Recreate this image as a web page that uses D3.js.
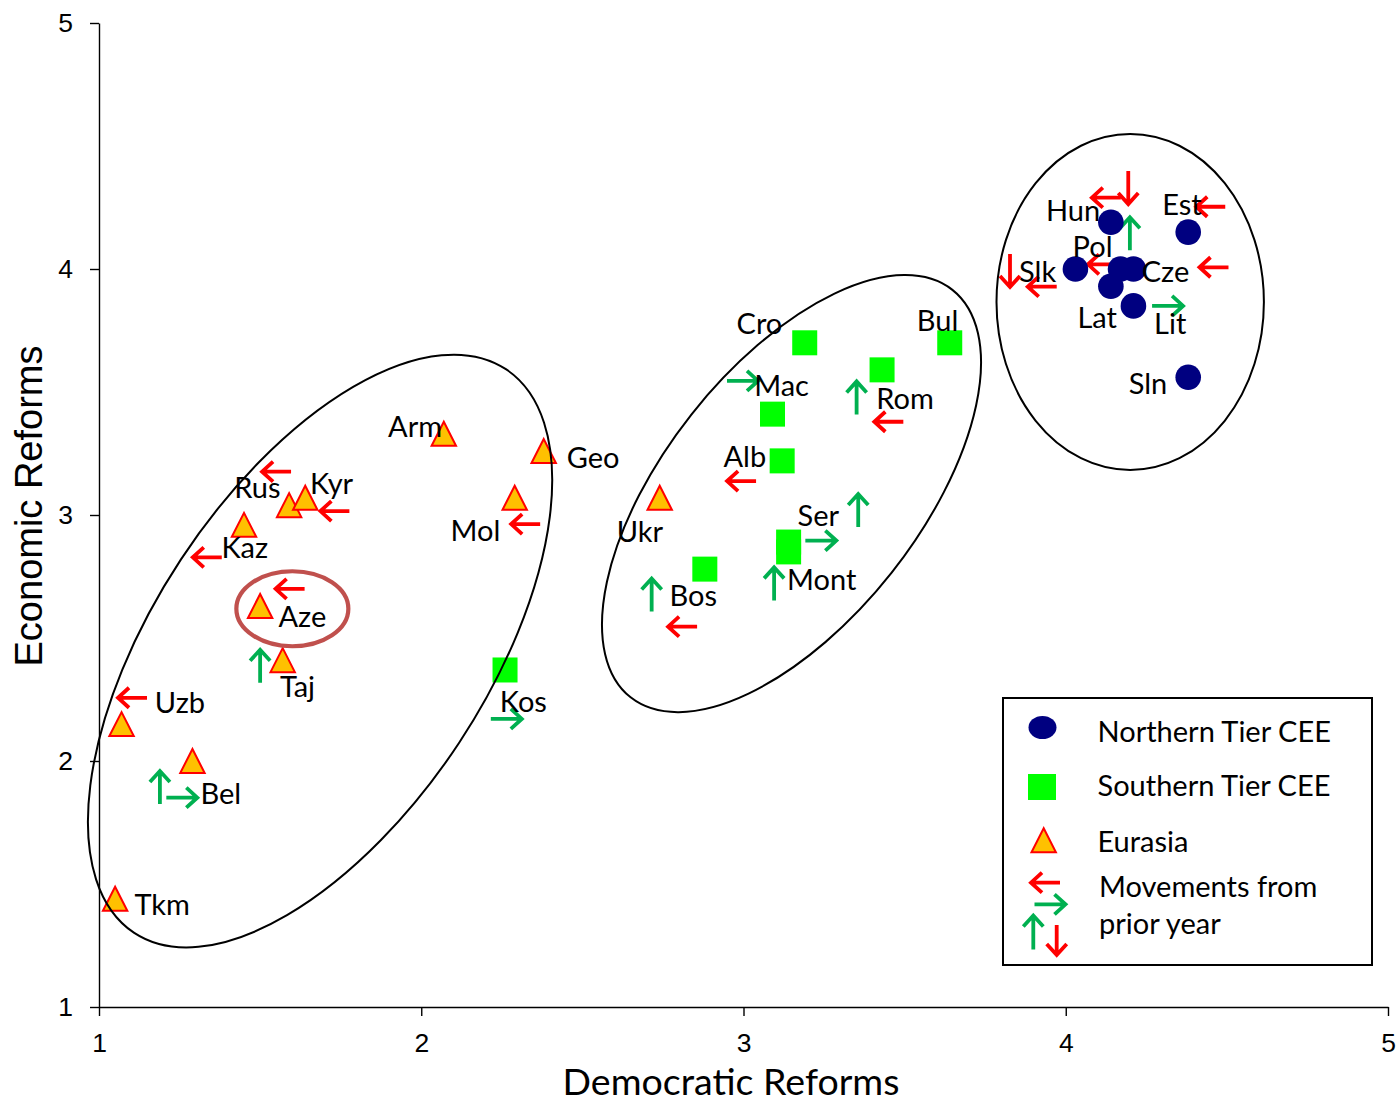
<!DOCTYPE html>
<html>
<head>
<meta charset="utf-8">
<script src="https://cdn.jsdelivr.net/npm/d3@7"></script>
<style>
  html, body { margin: 0; padding: 0; background: #fff; }
  svg { display: block; }
</style>
</head>
<body>
<svg id="chart" width="1399" height="1107"></svg>
<script>
// ---------------- DATA ----------------
const xTicks = [1, 2, 3, 4, 5];
const yTicks = [1, 2, 3, 4, 5];
const xTitle = "Democratic Reforms";
const yTitle = "Economic Reforms";

// Northern Tier CEE
const northNames = ["Hun", "Est", "Slk", "Pol", "Cze", "Lat", "Lit", "Sln"];
const northDem   = [4.14, 4.38, 4.03, 4.17, 4.21, 4.14, 4.21, 4.38];
const northEcon  = [4.19, 4.15, 4.00, 4.00, 4.00, 3.93, 3.85, 3.56];

// Southern Tier CEE
const southNames = ["Cro", "Bul", "Rom", "Mac", "Alb", "Ser", "Mont", "Bos", "Kos"];
const southDem   = [3.19, 3.64, 3.43, 3.09, 3.12, 3.14, 3.14, 2.88, 2.26];
const southEcon  = [3.70, 3.70, 3.59, 3.41, 3.22, 2.89, 2.85, 2.78, 2.37];

// Eurasia
const eurNames = ["Arm", "Geo", "Mol", "Ukr", "Rus", "Kyr", "Kaz", "Aze", "Taj", "Uzb", "Bel", "Tkm"];
const eurDem   = [2.07, 2.38, 2.29, 2.74, 1.59, 1.64, 1.45, 1.50, 1.57, 1.07, 1.29, 1.05];
const eurEcon  = [3.33, 3.26, 3.07, 3.07, 3.04, 3.07, 2.96, 2.63, 2.41, 2.15, 2.00, 1.44];

// Movements from prior year (L = left, R = right, U = up, D = down), placed in data units
const moveNames = ["Rus","Kyr","Kaz","Aze","Taj","Uzb","Bel","Bel","Mol","Kos",
                   "Mac","Rom","Rom","Alb","Ser","Ser","Mont","Bos","Bos",
                   "Hun","Hun","Pol","Est","Pol","Cze","Slk","Slk","Lit"];
const moveDir   = ["L","L","L","L","U","L","U","R","L","R",
                   "R","U","L","L","U","R","U","U","L",
                   "L","D","U","L","L","L","D","L","R"];
const moveDem   = [1.551,1.732,1.336,1.593,1.500,1.104,1.189,1.257,2.324,2.264,
                   2.997,3.351,3.451,2.994,3.356,3.240,3.095,2.715,2.811,
                   4.126,4.194,4.199,4.450,4.114,4.460,3.827,3.927,4.316];
const moveEcon  = [3.176,3.016,2.828,2.700,2.385,2.257,1.892,1.851,2.963,2.171,
                   3.545,3.476,3.379,3.138,3.018,2.896,2.720,2.675,2.546,
                   4.290,4.331,4.143,4.253,4.019,4.007,3.994,3.928,3.850];

// Group outlines (centres in data units)
const groupCentreDem  = [1.686, 3.149, 4.200];
const groupCentreEcon = [2.447, 3.087, 3.866];
// Highlighted country
const highlightName = "Aze";
const highlightDem = 1.600, highlightEcon = 2.619;

const legendLabels = ["Northern Tier CEE", "Southern Tier CEE", "Eurasia"];
const legendMoveLines = ["Movements from", "prior year"];

// ---------------- LAYOUT / STYLE ----------------
const labelFont = "Lato, 'Open Sans', sans-serif";
const labelSize = 29;
const arialFont = "'Liberation Sans', Arial, sans-serif";
const RED = "#FF0000", GREEN = "#00B050", NAVY = "#000080", LIME = "#00FF00", AMBER = "#FFC000";

// label placement relative to marker: [dx, dy, anchor]
const labelPos = {
  Hun: [-10.7, -1.6, "end"], Est: [-26, -17, "start"], Slk: [-19.3, 12.7, "end"],
  Pol: [-8, -11.6, "end"], Cze: [8.3, 12.7, "start"], Lat: [-13.7, 41.6, "middle"],
  Lit: [20.7, 27.6, "start"], Sln: [-21, 16.7, "end"],
  Cro: [-22.4, -8.4, "end"], Bul: [8.6, -11.7, "end"], Rom: [-5.7, 39.3, "start"],
  Mac: [-18.3, -18.3, "start"], Alb: [-16, 6.4, "end"], Ser: [9, -15.8, "start"],
  Mont: [-1.6, 38.2, "start"], Bos: [-35.4, 36.7, "start"], Kos: [18.3, 42.3, "middle"],
  Arm: [-1.7, 2.7, "end"], Geo: [23, 16.7, "start"], Mol: [-14.4, 43.7, "end"],
  Ukr: [3.3, 44, "end"], Rus: [-8.6, -7, "end"], Kyr: [4.7, -3.7, "start"],
  Kaz: [-22.6, 32.7, "start"], Aze: [18.3, 21, "start"], Taj: [14.8, 37, "middle"],
  Uzb: [33.3, -11.4, "start"], Bel: [8, 42.7, "start"], Tkm: [19.3, 16.7, "start"]
};
// outline ellipses: [rx, ry, rotation deg]
const groupShape = [[337.6, 166.6, -56.6], [259.6, 127.6, -51.7], [133.7, 168, 0]];

// ---------------- CHART ----------------
const svg = d3.select("#chart");
const x = d3.scaleLinear().domain([1, 5]).range([99, 1388]);
const y = d3.scaleLinear().domain([1, 5]).range([1007, 23]);

// axes
const gx = svg.append("g").attr("transform", `translate(0,${y(1)})`)
  .call(d3.axisBottom(x).tickValues(xTicks).tickFormat(d3.format("d"))
        .tickSize(9).tickSizeOuter(0).tickPadding(17.5));
const gy = svg.append("g").attr("transform", `translate(${x(1)},0)`)
  .call(d3.axisLeft(y).tickValues(yTicks).tickFormat(d3.format("d"))
        .tickSize(9).tickSizeOuter(0).tickPadding(17));
[gx, gy].forEach(g => {
  g.attr("font-size", null).attr("font-family", null);
  g.selectAll("path, line").attr("stroke", "#000").attr("stroke-width", 1.4);
  g.selectAll("text").attr("font-family", arialFont).attr("font-size", 26.5).attr("fill", "#000");
});

svg.append("text").attr("x", 731).attr("y", 1095).attr("text-anchor", "middle")
  .attr("font-family", labelFont).attr("font-size", 37.5).text(xTitle);
svg.append("text").attr("transform", "translate(42,506) rotate(-90)").attr("text-anchor", "middle")
  .attr("font-family", arialFont).attr("font-size", 38).text(yTitle);

// marker helpers
const triPath = "M0,-12 L12.2,12 L-12.2,12 Z";
function drawArrow(g, cx, cy, dir, color, len) {
  const h = len / 2, head = 11, spread = 10;
  let d;
  if (dir === "L") d = `M${cx + h},${cy} H${cx - h} M${cx - h + head},${cy - spread} L${cx - h},${cy} L${cx - h + head},${cy + spread}`;
  if (dir === "R") d = `M${cx - h},${cy} H${cx + h} M${cx + h - head},${cy - spread} L${cx + h},${cy} L${cx + h - head},${cy + spread}`;
  if (dir === "U") d = `M${cx},${cy + h} V${cy - h} M${cx - spread},${cy - h + head} L${cx},${cy - h} L${cx + spread},${cy - h + head}`;
  if (dir === "D") d = `M${cx},${cy - h} V${cy + h} M${cx - spread},${cy + h - head} L${cx},${cy + h} L${cx + spread},${cy + h - head}`;
  g.append("path").attr("d", d).attr("fill", "none").attr("stroke", color)
    .attr("stroke-width", 3.8).attr("stroke-linejoin", "miter");
}

const plot = svg.append("g");

// movement arrows
const arrowsG = plot.append("g");
moveDir.forEach((dir, i) => {
  const color = (dir === "L" || dir === "D") ? RED : GREEN;
  const len = (dir === "U" || dir === "D") ? 33 : (dir === "R" ? 31 : 29);
  drawArrow(arrowsG, x(moveDem[i]), y(moveEcon[i]), dir, color, len);
});

// markers
const north = northNames.map((n, i) => ({ n, dx: northDem[i], ey: northEcon[i] }));
const south = southNames.map((n, i) => ({ n, dx: southDem[i], ey: southEcon[i] }));
const eur = eurNames.map((n, i) => ({ n, dx: eurDem[i], ey: eurEcon[i] }));

plot.append("g").selectAll("rect").data(south).join("rect")
  .attr("x", d => x(d.dx) - 12.5).attr("y", d => y(d.ey) - 12.5)
  .attr("width", 25).attr("height", 25).attr("fill", LIME);
plot.append("g").selectAll("circle").data(north).join("circle")
  .attr("cx", d => x(d.dx)).attr("cy", d => y(d.ey)).attr("r", 12.8).attr("fill", NAVY);
plot.append("g").selectAll("path").data(eur).join("path")
  .attr("transform", d => `translate(${x(d.dx)},${y(d.ey)})`)
  .attr("d", triPath).attr("fill", AMBER).attr("stroke", RED).attr("stroke-width", 2);

// labels
plot.append("g").selectAll("text").data([...north, ...south, ...eur]).join("text")
  .attr("x", d => x(d.dx) + labelPos[d.n][0])
  .attr("y", d => y(d.ey) + labelPos[d.n][1])
  .attr("text-anchor", d => labelPos[d.n][2])
  .attr("font-family", labelFont).attr("font-size", labelSize).attr("fill", "#000")
  .text(d => d.n);

// group outlines
groupCentreDem.forEach((cd, i) => {
  const [rx, ry, rot] = groupShape[i];
  svg.append("ellipse")
    .attr("transform", `translate(${x(cd)},${y(groupCentreEcon[i])}) rotate(${rot})`)
    .attr("rx", rx).attr("ry", ry).attr("fill", "none")
    .attr("stroke", "#000").attr("stroke-width", 2);
});
svg.append("ellipse").attr("class", "highlight-" + highlightName)
  .attr("cx", x(highlightDem)).attr("cy", y(highlightEcon))
  .attr("rx", 56).attr("ry", 37.5).attr("fill", "none")
  .attr("stroke", "#C0504D").attr("stroke-width", 4.2);

// legend
const lg = svg.append("g");
lg.append("rect").attr("x", 1003).attr("y", 698).attr("width", 369).attr("height", 267)
  .attr("fill", "#fff").attr("stroke", "#000").attr("stroke-width", 2);
lg.append("ellipse").attr("cx", 1042.5).attr("cy", 727.5).attr("rx", 14).attr("ry", 11.5).attr("fill", NAVY);
lg.append("rect").attr("x", 1028).attr("y", 774).attr("width", 28).attr("height", 26).attr("fill", LIME);
lg.append("path").attr("transform", "translate(1043.7,840.3)").attr("d", triPath)
  .attr("fill", AMBER).attr("stroke", RED).attr("stroke-width", 2);
const legY = [741.5, 796, 851.5];
legendLabels.forEach((t, i) => {
  lg.append("text").attr("x", 1097.5).attr("y", legY[i]).attr("font-family", labelFont)
    .attr("font-size", labelSize).text(t);
});
legendMoveLines.forEach((t, i) => {
  lg.append("text").attr("x", 1099).attr("y", 896.5 + i * 37.7).attr("font-family", labelFont)
    .attr("font-size", labelSize).text(t);
});
drawArrow(lg, 1045.5, 882.7, "L", RED, 29);
drawArrow(lg, 1050, 904.3, "R", GREEN, 31);
drawArrow(lg, 1033.3, 932.5, "U", GREEN, 34);
drawArrow(lg, 1056.7, 940, "D", RED, 30);
</script>
</body>
</html>
